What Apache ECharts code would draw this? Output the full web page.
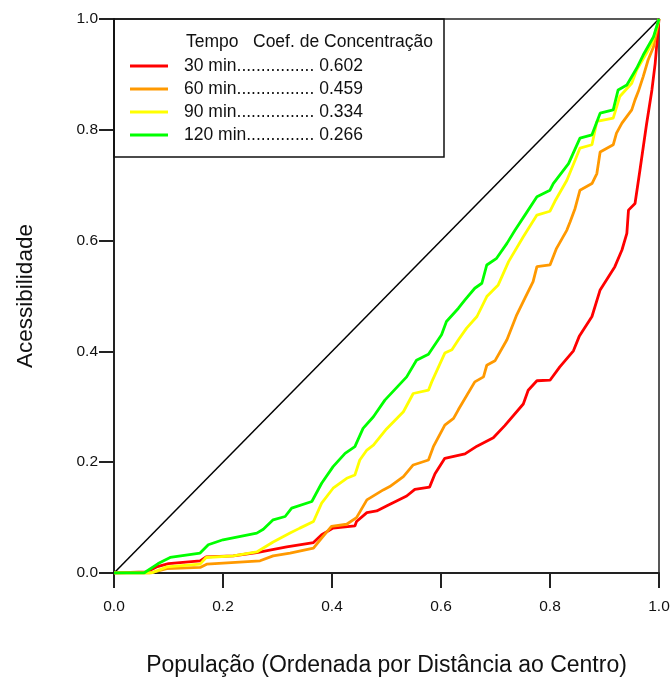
<!DOCTYPE html>
<html>
<head>
<meta charset="utf-8">
<script src="https://cdn.jsdelivr.net/npm/echarts@6/dist/echarts.min.js"></script>
<style>html,body{margin:0;padding:0;background:#fff;overflow:hidden}#c{width:672px;height:677px}</style>
</head>
<body>
<div id="c"></div>
<script>
const xTicks = [0, 0.2, 0.4, 0.6, 0.8, 1.0];
const yTicks = [0, 0.2, 0.4, 0.6, 0.8, 1.0];
const seriesNames = ['30 min', '60 min', '90 min', '120 min'];
const coefs = ['0.602', '0.459', '0.334', '0.266'];
const dotsFor = ['................', '................', '................', '..............'];

const diagX = [0, 1];
const diagY = [0, 1];

const redX = [0,0.06,0.078,0.1,0.158,0.169,0.219,0.262,0.317,0.366,0.381,0.402,0.442,0.445,0.464,0.482,0.5,0.512,0.537,0.552,0.579,0.589,0.607,0.644,0.666,0.696,0.717,0.751,0.76,0.776,0.8,0.818,0.843,0.854,0.877,0.892,0.919,0.932,0.941,0.944,0.956,0.965,0.977,0.987,0.993,1.0];
const redY = [0,0.002,0.011,0.017,0.022,0.029,0.031,0.037,0.047,0.055,0.069,0.081,0.085,0.093,0.109,0.112,0.121,0.127,0.139,0.151,0.155,0.179,0.207,0.215,0.229,0.244,0.266,0.305,0.33,0.347,0.348,0.372,0.401,0.428,0.463,0.511,0.553,0.583,0.613,0.655,0.667,0.727,0.809,0.872,0.92,1.0];

const orangeX = [0,0.066,0.097,0.158,0.17,0.268,0.292,0.323,0.366,0.381,0.399,0.427,0.445,0.464,0.494,0.506,0.531,0.549,0.577,0.586,0.607,0.623,0.632,0.662,0.678,0.684,0.699,0.721,0.739,0.754,0.769,0.776,0.8,0.812,0.831,0.837,0.846,0.855,0.877,0.886,0.892,0.916,0.922,0.932,0.95,0.956,0.962,0.971,0.98,0.99,0.996,1.0];
const orangeY = [0,0,0.008,0.01,0.016,0.022,0.031,0.036,0.045,0.063,0.084,0.088,0.1,0.132,0.15,0.156,0.174,0.195,0.204,0.228,0.267,0.279,0.295,0.345,0.354,0.375,0.383,0.421,0.466,0.496,0.526,0.553,0.556,0.586,0.619,0.634,0.658,0.691,0.703,0.721,0.76,0.773,0.794,0.812,0.836,0.854,0.869,0.896,0.926,0.95,0.98,1.0];

const yellowX = [0,0.069,0.097,0.158,0.169,0.219,0.262,0.292,0.323,0.341,0.366,0.381,0.402,0.427,0.442,0.451,0.464,0.476,0.5,0.531,0.549,0.577,0.583,0.607,0.62,0.632,0.647,0.666,0.684,0.705,0.724,0.751,0.776,0.8,0.809,0.831,0.846,0.855,0.877,0.886,0.916,0.928,0.95,0.959,0.977,0.987,0.996,1.0];
const yellowY = [0,0,0.011,0.016,0.028,0.031,0.038,0.056,0.072,0.081,0.093,0.126,0.153,0.171,0.177,0.204,0.222,0.231,0.26,0.291,0.324,0.33,0.345,0.397,0.403,0.421,0.442,0.463,0.499,0.52,0.562,0.607,0.646,0.653,0.671,0.709,0.745,0.767,0.773,0.815,0.821,0.86,0.884,0.908,0.938,0.956,0.986,1.0];

const greenX = [0,0.055,0.081,0.103,0.158,0.173,0.2,0.262,0.274,0.292,0.314,0.326,0.363,0.381,0.402,0.424,0.442,0.457,0.476,0.497,0.537,0.555,0.577,0.601,0.61,0.632,0.644,0.662,0.675,0.684,0.702,0.721,0.736,0.754,0.776,0.8,0.806,0.834,0.855,0.877,0.892,0.916,0.925,0.941,0.959,0.971,0.99,1.0];
const greenY = [0,0,0.017,0.028,0.036,0.051,0.06,0.072,0.079,0.096,0.102,0.117,0.129,0.162,0.192,0.216,0.228,0.261,0.282,0.312,0.354,0.384,0.395,0.43,0.454,0.478,0.493,0.514,0.523,0.556,0.568,0.595,0.619,0.646,0.679,0.691,0.703,0.739,0.785,0.791,0.83,0.836,0.872,0.881,0.911,0.935,0.968,1.0];

const colors = ['#ff0000', '#ff9900', '#ffff00', '#00ff00'];
const FONT = '"Liberation Sans", Arial, sans-serif';

function zip(xs, ys) { return xs.map((x, i) => [x, ys[i]]); }
const curves = [zip(redX, redY), zip(orangeX, orangeY), zip(yellowX, yellowY), zip(greenX, greenY)];

const chart = echarts.init(document.getElementById('c'), null, {renderer: 'canvas', width: 672, height: 677});
const series = [{
  name: 'diag', type: 'line', data: zip(diagX, diagY), symbol: 'none', silent: true,
  lineStyle: {color: '#000', width: 1.5}, z: 1
}];
seriesNames.forEach((n, i) => {
  series.push({
    name: n, type: 'line', data: curves[i], symbol: 'none', showSymbol: false,
    lineStyle: {color: colors[i], width: 2.8}, itemStyle: {color: colors[i]}, z: 2 + i
  });
});

const fmt = ticks => v => { const t = ticks.find(k => Math.abs(k - v) < 1e-9); return (t !== undefined ? t : v).toFixed(1); };

chart.setOption({
  animation: false,
  backgroundColor: '#fff',
  grid: {left: 114, right: 13, top: 19, bottom: 104, containLabel: false, outerBoundsMode: 'none',
    show: true, borderColor: '#222', borderWidth: 1.5, backgroundColor: 'transparent'},
  xAxis: {
    type: 'value', min: 0, max: 1, interval: 0.2,
    name: 'População (Ordenada por Distância ao Centro)', nameLocation: 'middle', nameGap: 81,
    nameTextStyle: {fontFamily: FONT, fontSize: 23, color: '#111'},
    axisLine: {lineStyle: {color: '#222', width: 2}},
    axisTick: {inside: false, length: 15, lineStyle: {color: '#222', width: 2}},
    axisLabel: {fontFamily: FONT, fontSize: 15.5, color: '#111', margin: 26, formatter: fmt(xTicks)},
    splitLine: {show: false}
  },
  yAxis: {
    type: 'value', min: 0, max: 1, interval: 0.2,
    name: 'Acessibilidade', nameLocation: 'middle', nameGap: 77,
    nameTextStyle: {fontFamily: FONT, fontSize: 22.5, color: '#111'},
    axisLine: {lineStyle: {color: '#222', width: 2}},
    axisTick: {inside: false, length: 15, lineStyle: {color: '#222', width: 2}},
    axisLabel: {fontFamily: FONT, fontSize: 15.5, color: '#111', margin: 16, formatter: fmt(yTicks)},
    splitLine: {show: false}
  },
  legend: {
    orient: 'vertical', left: 125, top: 52, itemWidth: 38, itemHeight: 14, itemGap: 5,
    symbolKeepAspect: true,
    data: seriesNames.map(n => ({name: n, icon: 'path://M0,0L40,0L40,3L0,3Z'})),
    textStyle: {fontFamily: FONT, fontSize: 17.5, color: '#111', padding: [0, 0, 0, 11]},
    formatter: name => { const i = seriesNames.indexOf(name); return name + dotsFor[i] + ' ' + coefs[i]; }
  },
  graphic: [
    {type: 'rect', shape: {x: 114, y: 19, width: 330, height: 138}, style: {fill: 'none', stroke: '#111', lineWidth: 1.5}, z: 100},
    {type: 'text', x: 186, y: 42, style: {text: 'Tempo', font: '17.5px ' + FONT, fill: '#111', textVerticalAlign: 'middle'}, z: 100},
    {type: 'text', x: 253, y: 42, style: {text: 'Coef. de Concentração', font: '17.5px ' + FONT, fill: '#111', textVerticalAlign: 'middle'}, z: 100}
  ],
  series: series
});
</script>
</body>
</html>
